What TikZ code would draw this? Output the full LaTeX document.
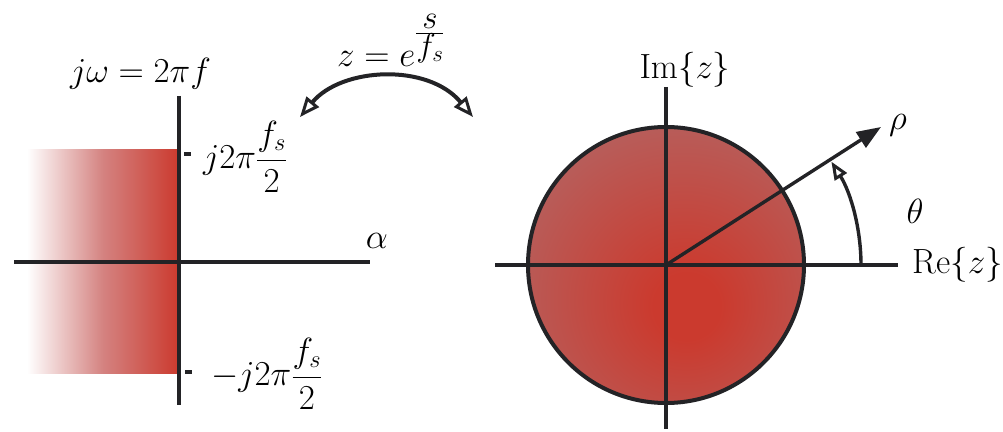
\RequirePackage{fix-cm}
\documentclass[tikz,border=0pt]{standalone}
\usetikzlibrary{arrows.meta}
\definecolor{redc}{RGB}{203,58,46}
\definecolor{midc}{RGB}{212,130,128}
\definecolor{edgec}{RGB}{172,114,116}
\definecolor{axc}{RGB}{35,35,38}
\pgfdeclareradialshading{discshade}{\pgfpoint{4bp}{-8bp}}{color(0bp)=(redc); color(6bp)=(redc); color(46bp)=(edgec); color(100bp)=(edgec)}
\begin{document}
\begin{tikzpicture}[x=1pt,y=1pt]
\tikzset{
  axisline/.style={line width=3.4pt,draw=axc},
  lbl/.style={font=\fontsize{35}{42}\selectfont, inner sep=0pt},
}
\useasboundingbox (0,0) rectangle (1003,431);
% ---------- left plane ----------
\shade[left color=white, right color=redc, middle color=midc, shading=axis] (27,58) rectangle (179,281);
\coordinate (vtop) at (179,335);
\coordinate (vbot) at (179,26);
\coordinate (hl) at (14,169);
\coordinate (hr) at (370,169);
\draw[axisline] (vtop) -- (vbot);
\draw[axisline] (hl) -- (hr);
\coordinate (t1a) at (184,277);
\coordinate (t1b) at (191,277);
\coordinate (t2a) at (185,59);
\coordinate (t2b) at (192,59);
\draw[axisline] (t1a) -- (t1b);
\draw[axisline] (t2a) -- (t2b);
\node[lbl, anchor=base west] (jw) at (70,348) {$j\omega = 2\pi f$};
\node[lbl, anchor=west] (fp) at (203,274) {$\displaystyle j2\pi\frac{f_s}{2}$};
\node[lbl, anchor=west] (fm) at (211,57) {$\displaystyle -j2\pi\frac{f_s}{2}$};
\node[lbl] (alpha) at (377,190) {$\alpha$};
% ---------- mapping arrow ----------
\coordinate (ml) at (300,314);
\coordinate (mr) at (473,314);
\draw[line width=4pt, draw=axc, {Triangle[open,length=20pt,width=16pt,line width=3pt]}-{Triangle[open,length=20pt,width=16pt,line width=3pt]}]
  (ml) .. controls (342,364) and (428,368) .. (mr);
\node[lbl, anchor=base west] (map) at (337,364) {$z = e$\raisebox{25.5pt}{\fontsize{33}{36}\selectfont$\frac{\textstyle s}{\textstyle f_s}$}};
% ---------- right plane ----------
\coordinate (O) at (666,166);
\shade[shading=discshade] (O) circle[radius=138];
\draw[line width=4pt, draw=axc] (O) circle[radius=138];
\coordinate (itop) at (666,344);
\coordinate (ibot) at (666,2);
\coordinate (rl) at (495,166);
\coordinate (rr) at (898,166);
\draw[axisline] (itop) -- (ibot);
\draw[axisline] (rl) -- (rr);
\coordinate (rho) at (881,304);
\draw[axisline, -{Triangle[length=24pt,width=18pt]}] (O) -- (rho);
\coordinate (a0) at (861,166);
\draw[line width=3.4pt, draw=axc, -{Triangle[open,length=18pt,width=14pt,line width=3pt]}] (a0) arc[start angle=0,end angle=32.0,radius=195];
\node[lbl] (rholbl) at (898,306) {$\rho$};
\node[lbl] (theta) at (915,220) {$\theta$};
\node[lbl] (im) at (685,361) {$\mathrm{Im}\{z\}$};
\node[lbl, anchor=west] (re) at (912,166) {$\mathrm{Re}\{z\}$};
\end{tikzpicture}
\end{document}
